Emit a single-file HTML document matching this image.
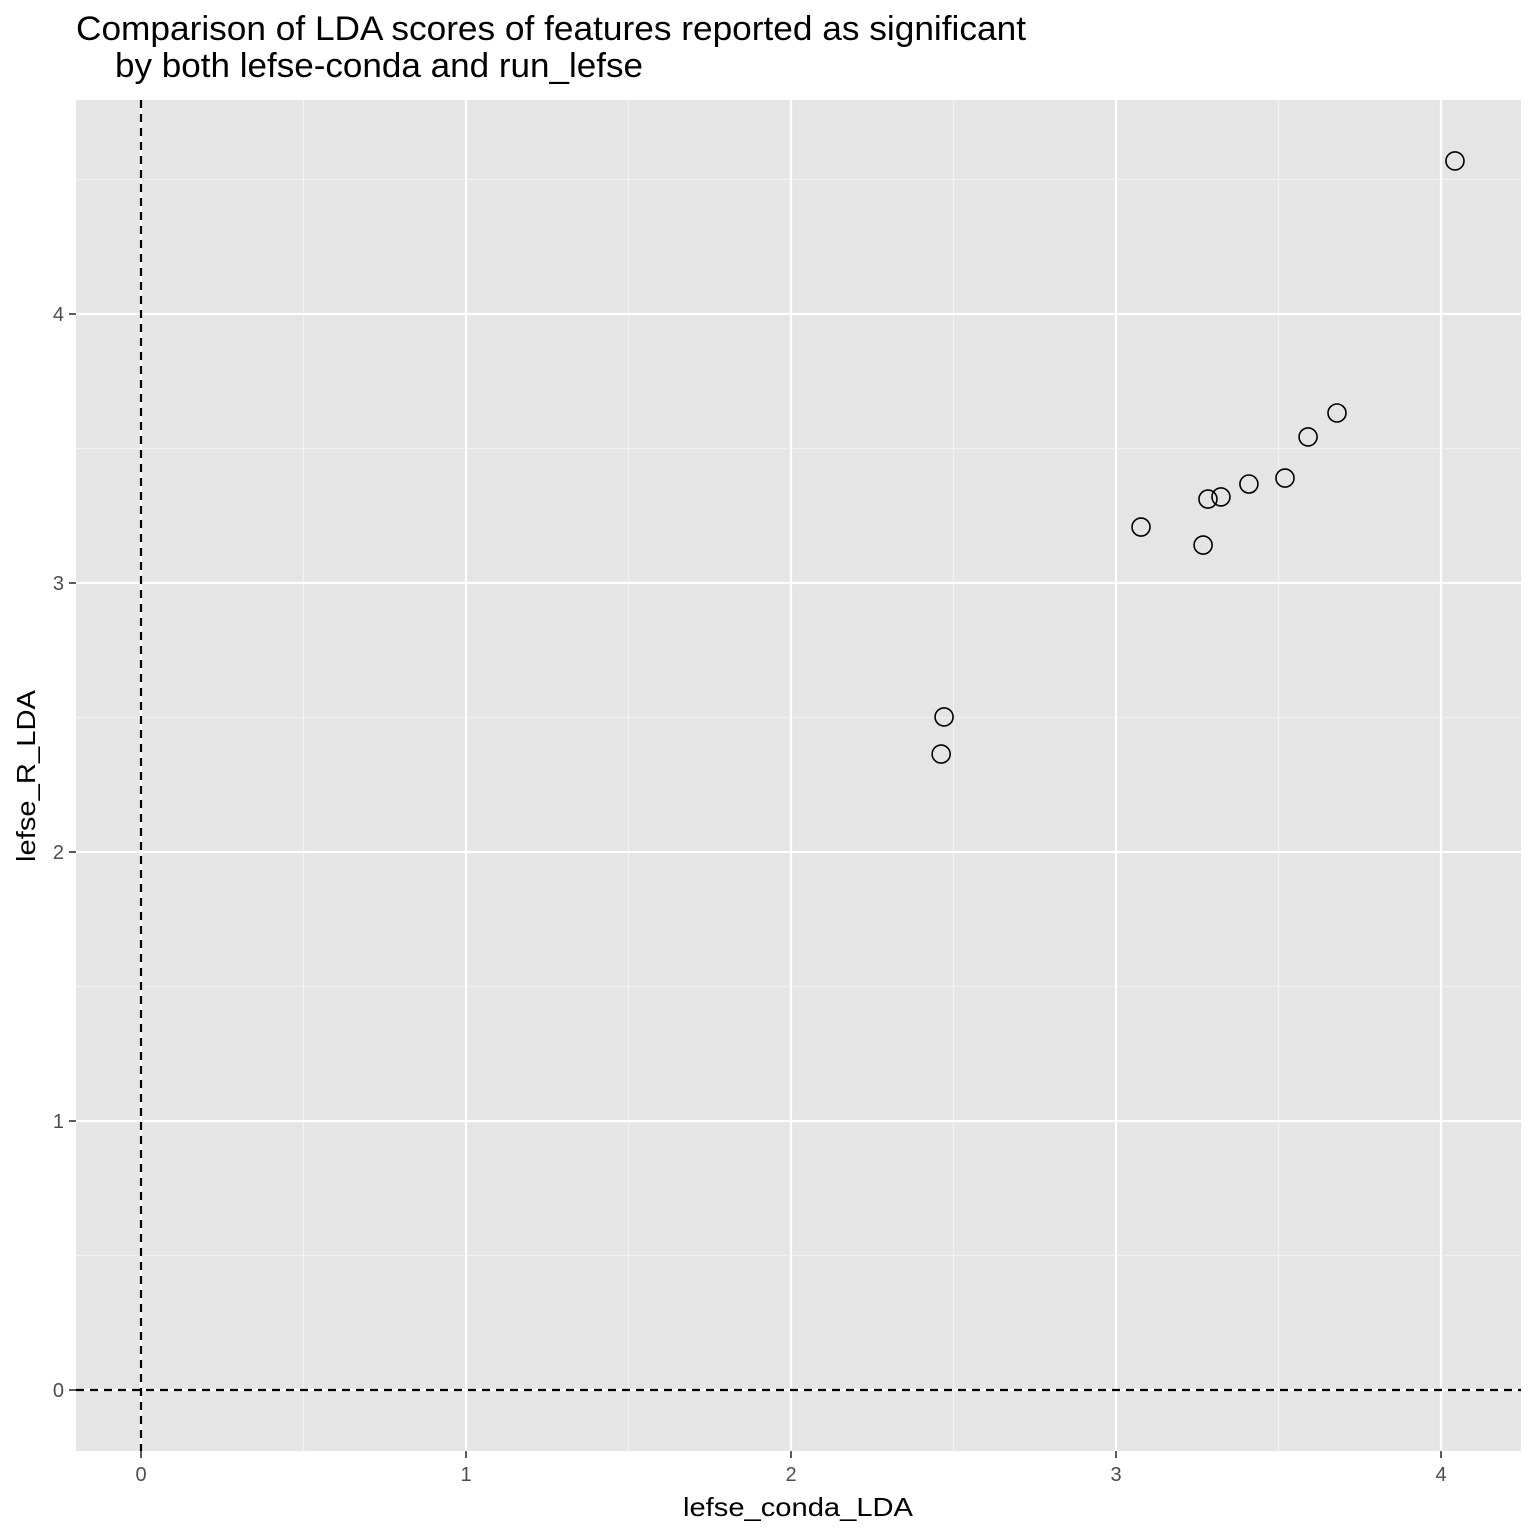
<!DOCTYPE html>
<html><head><meta charset="utf-8"><style>
html,body{margin:0;padding:0;background:#fff;}
svg{display:block;font-family:"Liberation Sans",Arial,sans-serif;}
</style></head><body>
<svg id="chart" width="1536" height="1536" viewBox="0 0 1536 1536" xmlns="http://www.w3.org/2000/svg">
<rect x="0" y="0" width="1536" height="1536" fill="#fff"/>
<text x="76" y="40" font-size="34" textLength="950" lengthAdjust="spacingAndGlyphs" fill="#000">Comparison of LDA scores of features reported as significant</text>
<text x="115" y="77" font-size="34" textLength="528" lengthAdjust="spacingAndGlyphs" fill="#000">by both lefse-conda and run_lefse</text>
<rect x="76" y="100" width="1445" height="1351" fill="#e5e5e5"/>
<g id="grid"></g>
<g id="refs"></g>
<g id="points"></g>
<g id="axes"></g>
<text x="683" y="1516" font-size="26" textLength="230" lengthAdjust="spacingAndGlyphs" fill="#000">lefse_conda_LDA</text>
<text transform="translate(35,862) rotate(-90)" font-size="26" textLength="172" lengthAdjust="spacingAndGlyphs" fill="#000">lefse_R_LDA</text>
</svg>
<script>
const xVals = [4.043, 3.680, 3.591, 3.520, 3.409, 3.323, 3.283, 3.077, 3.268, 2.471, 2.462];
const yVals = [4.569, 3.632, 3.543, 3.390, 3.368, 3.320, 3.312, 3.208, 3.141, 2.502, 2.364];
const xTicks = [0, 1, 2, 3, 4];
const yTicks = [0, 1, 2, 3, 4];
const xMinor = [0.5, 1.5, 2.5, 3.5];
const yMinor = [0.5, 1.5, 2.5, 3.5, 4.5];

const PL = 76, PR = 1521, PT = 100, PB = 1451;
function sx(v){ return 141 + v * 325; }
function sy(v){ return 1390 - v * 269; }
const NS = "http://www.w3.org/2000/svg";
function mk(tag, attrs, parent){
  const e = document.createElementNS(NS, tag);
  for (const k in attrs) e.setAttribute(k, attrs[k]);
  parent.appendChild(e);
  return e;
}
const grid = document.getElementById('grid');
xMinor.forEach(v => {
  const l = mk('line', {x1:sx(v), x2:sx(v), y1:PT, y2:PB, stroke:'#f2f2f2', 'stroke-width':1.2}, grid);
  
  
});
yMinor.forEach(v => {
  const l = mk('line', {x1:PL, x2:PR, y1:sy(v), y2:sy(v), stroke:'#f2f2f2', 'stroke-width':1.2}, grid);
  
  
});
xTicks.forEach(v => {
  const l = mk('line', {x1:sx(v), x2:sx(v), y1:PT, y2:PB, stroke:'#fff', 'stroke-width':2.2}, grid);
  
  
});
yTicks.forEach(v => {
  const l = mk('line', {x1:PL, x2:PR, y1:sy(v), y2:sy(v), stroke:'#fff', 'stroke-width':2.2}, grid);
  
  
});
const refs = document.getElementById('refs');
const vl = mk('line', {x1:sx(0), x2:sx(0), y1:PT, y2:PB, stroke:'#000', 'stroke-width':2.2, 'stroke-dasharray':'8,6'}, refs);


const hl = mk('line', {x1:PL, x2:PR, y1:sy(0), y2:sy(0), stroke:'#000', 'stroke-width':2.2, 'stroke-dasharray':'8,6'}, refs);



const pts = document.getElementById('points');
xVals.forEach((x, i) => {
  const c = mk('circle', {cx:sx(x), cy:sy(yVals[i]), r:9, fill:'none', stroke:'#000', 'stroke-width':1.6}, pts);
  
  
});

const axes = document.getElementById('axes');
xTicks.forEach(v => {
  const t = mk('line', {x1:sx(v), x2:sx(v), y1:PB, y2:PB+7, stroke:'#333', 'stroke-width':1.6}, axes);
  
  
  const lb = mk('text', {x:sx(v), y:PB+30, 'font-size':20, 'text-anchor':'middle', fill:'#4d4d4d'}, axes);
  lb.textContent = v;
  
  
});
yTicks.forEach(v => {
  const t = mk('line', {x1:PL-7, x2:PL, y1:sy(v), y2:sy(v), stroke:'#333', 'stroke-width':1.6}, axes);
  
  
  const lb = mk('text', {x:PL-12, y:sy(v)+7, 'font-size':20, 'text-anchor':'end', fill:'#4d4d4d'}, axes);
  lb.textContent = v;
  
  
});
</script>
</body></html>
